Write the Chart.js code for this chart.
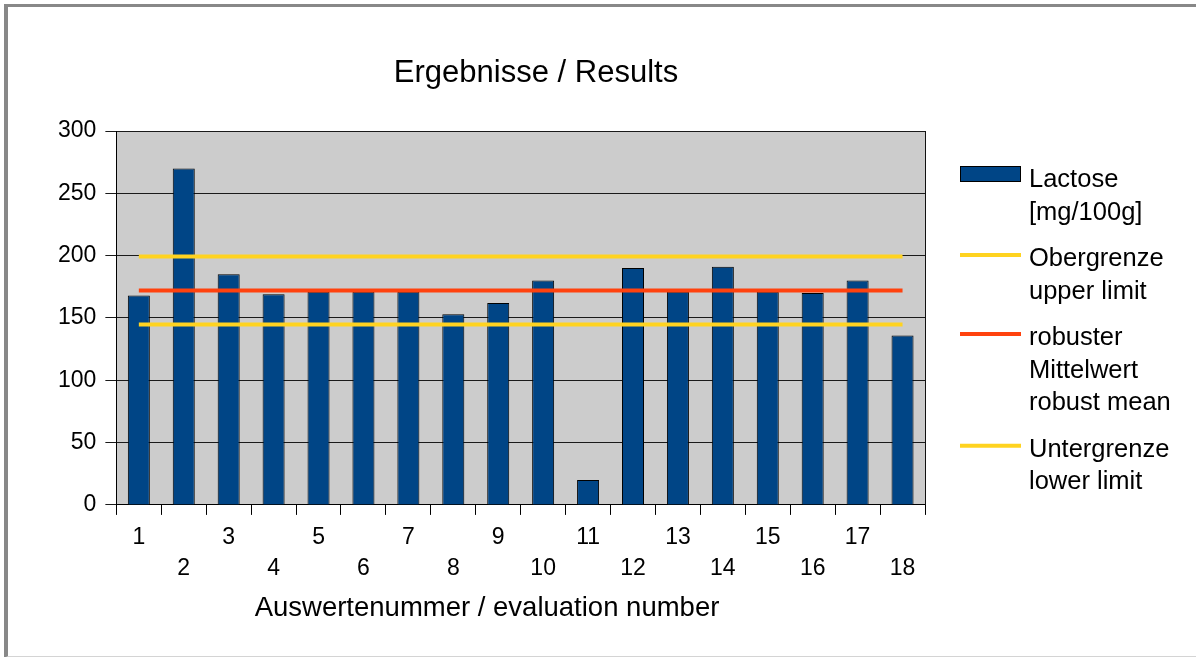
<!DOCTYPE html>
<html>
<head>
<meta charset="utf-8">
<script src="https://cdn.jsdelivr.net/npm/chart.js@4/dist/chart.umd.min.js"></script>
<style>
  html, body { margin: 0; padding: 0; background: #ffffff; }
  #wrap { position: relative; width: 1196px; height: 657px; overflow: hidden; }
  #frame { position: absolute; left: 4px; top: 4px; width: 1300px; height: 649px;
           border-left: 4px solid #888888; border-top: 3px solid #888888;
           border-bottom: 2px solid #d4d4d4; pointer-events: none; box-sizing: content-box; }
  canvas { position: absolute; left: 0; top: 0; }
</style>
</head>
<body>
<div id="wrap">
  <canvas id="c" width="1196" height="657"></canvas>
  <div id="frame"></div>
</div>
<script>
// ---- data ----
const categories = ['1','2','3','4','5','6','7','8','9','10','11','12','13','14','15','16','17','18'];
const lactose = [168, 270, 185, 169, 171, 171, 171, 153, 162, 180, 20, 190, 171, 191, 171, 170, 180, 136];
const upperLimit = 199.3;
const robustMean = 172.0;
const lowerLimit = 144.8;
const yTicks = [0, 50, 100, 150, 200, 250, 300];
const chartTitle = 'Ergebnisse / Results';
const xTitle = 'Auswertenummer / evaluation number';
const legendLabels = [
  ['Lactose', '[mg/100g]'],
  ['Obergrenze', 'upper limit'],
  ['robuster', 'Mittelwert', 'robust mean'],
  ['Untergrenze', 'lower limit']
];

const FONT = "'Liberation Sans', Arial, sans-serif";
const upperSeries = categories.map(() => upperLimit);
const meanSeries = categories.map(() => robustMean);
const lowerSeries = categories.map(() => lowerLimit);

const plotBg = {
  id: 'plotBg',
  beforeDraw(chart) {
    const {ctx, chartArea: a} = chart;
    ctx.save();
    ctx.fillStyle = '#cccccc';
    ctx.fillRect(a.left, a.top, a.right - a.left, a.bottom - a.top);
    ctx.restore();
  },
  afterDraw(chart) {
    const {ctx, chartArea: a} = chart;
    ctx.save();
    ctx.strokeStyle = '#111111';
    ctx.lineWidth = 1;
    ctx.beginPath();
    ctx.moveTo(Math.round(a.right) + 0.5, a.top);
    ctx.lineTo(Math.round(a.right) + 0.5, a.bottom);
    ctx.stroke();
    ctx.restore();
  }
};

// chart title and x-axis title, placed as in the reference
const titles = {
  id: 'titles',
  afterDraw(chart) {
    const {ctx} = chart;
    ctx.save();
    ctx.fillStyle = '#000000';
    ctx.textAlign = 'center';
    ctx.textBaseline = 'middle';
    ctx.font = '31px ' + FONT;
    ctx.fillText(chartTitle, 536, 73);
    ctx.font = '27.5px ' + FONT;
    ctx.fillText(xTitle, 487, 608);
    ctx.restore();
  }
};

const customLegend = {
  id: 'customLegend',
  afterDraw(chart) {
    const {ctx} = chart;
    const boxX = 960, boxW = 61, textX = 1029;
    const lineH = 32.7, gap = 13.6;
    let y = 180;
    ctx.save();
    ctx.font = '25.5px ' + FONT;
    ctx.textBaseline = 'middle';
    ctx.textAlign = 'left';
    chart.data.datasets.forEach((ds, i) => {
      const lines = legendLabels[i];
      if (ds.type === 'bar') {
        ctx.fillStyle = ds.backgroundColor;
        ctx.fillRect(boxX, y - 14, boxW, 16);
        ctx.strokeStyle = '#000000';
        ctx.lineWidth = 1;
        ctx.strokeRect(boxX + 0.5, y - 13.5, boxW - 1, 15);
      } else {
        ctx.strokeStyle = ds.borderColor;
        ctx.lineWidth = 4;
        ctx.beginPath();
        ctx.moveTo(boxX, y - 4);
        ctx.lineTo(boxX + boxW, y - 4);
        ctx.stroke();
      }
      ctx.fillStyle = '#000000';
      lines.forEach((t, k) => ctx.fillText(t, textX, y + k * lineH));
      y += lines.length * lineH + gap;
    });
    ctx.restore();
  }
};

new Chart(document.getElementById('c'), {
  data: {
    labels: categories,
    datasets: [
      { type: 'bar', label: 'Lactose [mg/100g]', data: lactose,
        backgroundColor: '#004586', borderColor: '#000000', borderWidth: 1,
        categoryPercentage: 1.0, barPercentage: 0.49, order: 5 },
      { type: 'line', label: 'Obergrenze upper limit', data: upperSeries,
        borderColor: '#ffd320', borderWidth: 4, pointRadius: 0, order: 1 },
      { type: 'line', label: 'robuster Mittelwert robust mean', data: meanSeries,
        borderColor: '#ff420e', borderWidth: 4, pointRadius: 0, order: 1 },
      { type: 'line', label: 'Untergrenze lower limit', data: lowerSeries,
        borderColor: '#ffd320', borderWidth: 4, pointRadius: 0, order: 1 }
    ]
  },
  options: {
    responsive: false,
    animation: false,
    devicePixelRatio: 1,
    layout: { padding: { left: 49, right: 271, top: 131, bottom: 65 } },
    plugins: {
      legend: { display: false },
      tooltip: { enabled: false },
      title: { display: false }
    },
    scales: {
      x: {
        type: 'category',
        offset: true,
        border: { display: true, color: '#000000', width: 1 },
        grid: { display: true, drawOnChartArea: false, drawTicks: true, tickLength: 10,
                color: '#000000', offset: true },
        ticks: {
          autoSkip: false, maxRotation: 0, minRotation: 0, padding: 7.5, color: '#000000',
          font: { family: FONT, size: 23, lineHeight: 1.35 },
          callback: function(value, index) {
            const lbl = categories[index];
            return index % 2 === 0 ? [lbl, ''] : ['', lbl];
          }
        },
        title: { display: false }
      },
      y: {
        min: 0, max: 300,
        afterBuildTicks(scale) { scale.ticks = yTicks.map(v => ({ value: v })); },
        border: { display: true, color: '#000000', width: 1 },
        grid: { color: '#1a1a1a', lineWidth: 1, tickLength: 11, drawTicks: true },
        ticks: { padding: 9, color: '#000000', font: { family: FONT, size: 23 } }
      }
    }
  },
  plugins: [plotBg, titles, customLegend]
});
</script>
</body>
</html>
